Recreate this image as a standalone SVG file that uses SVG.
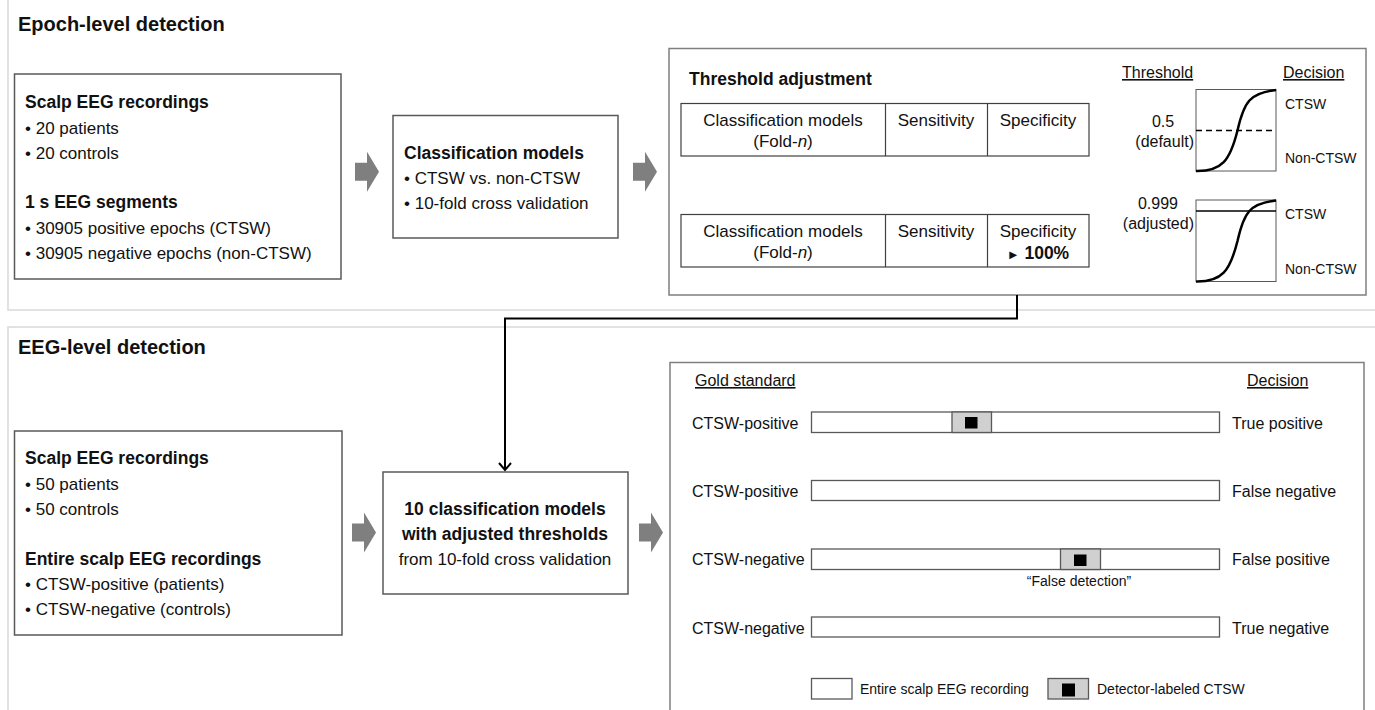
<svg xmlns="http://www.w3.org/2000/svg" width="1375" height="710" viewBox="0 0 1375 710">
<defs>
<style>
text{font-family:"Liberation Sans",Arial,sans-serif;fill:#111;}
.t17{font-size:17px;}
.b17{font-size:17.5px;font-weight:bold;}
.title{font-size:20px;font-weight:bold;}
.t16{font-size:16px;}
.t14{font-size:14px;}
.mid{text-anchor:middle;}
.end{text-anchor:end;}
.ul{text-decoration:underline;}
.section{fill:#fff;stroke:#d9d9d9;stroke-width:1.5;}
.box{fill:#fff;stroke:#595959;stroke-width:1.5;}
.panel{fill:#fff;stroke:#7f7f7f;stroke-width:1.5;}
.cell{fill:#fff;stroke:#404040;stroke-width:1.2;}
.bar{fill:#fff;stroke:#595959;stroke-width:1.3;}
.det{fill:#d0d0d0;stroke:#595959;stroke-width:1.3;}
.blk{fill:#000;}
.plot{fill:#fff;stroke:#595959;stroke-width:1;}
.curve{fill:none;stroke:#000;stroke-width:2.5;}
.bigarrow{fill:#7f7f7f;}
.conn{fill:none;stroke:#000;stroke-width:2;}
</style>
<marker id="openArrow" markerWidth="14" markerHeight="14" refX="12" refY="7" orient="auto" markerUnits="userSpaceOnUse" viewBox="0 0 14 14">
<path d="M5,1 L12,7 L5,13" fill="none" stroke="#000" stroke-width="2"/>
</marker>
<path id="blockArrow" d="M0,11 H12 V0 L24,20 L12,40 V29 H0 Z"/>
<path id="sig" d="M0,81.5 C26,82 34,71 41.5,41 C48,12 54,3.5 80,0.5"/>
</defs>

<!-- sections -->
<g id="section-epoch">
<rect class="section" x="8" y="-2" width="1372" height="312"/>
<text class="title" x="18" y="31">Epoch-level detection</text>
</g>
<g id="section-eeg">
<rect class="section" x="8" y="327" width="1372" height="390"/>
<text class="title" x="18" y="354">EEG-level detection</text>
</g>

<!-- Epoch-level nodes -->
<g id="node-scalp-eeg-1">
<rect class="box" x="14.5" y="74" width="326.5" height="205"/>
<text class="b17" x="25" y="108">Scalp EEG recordings</text>
<text class="t17" x="25" y="134">• 20 patients</text>
<text class="t17" x="25" y="159">• 20 controls</text>
<text class="b17" x="25" y="208">1 s EEG segments</text>
<text class="t17" x="25" y="234">• 30905 positive epochs (CTSW)</text>
<text class="t17" x="25" y="259">• 30905 negative epochs (non-CTSW)</text>
</g>

<g id="node-classification">
<rect class="box" x="393" y="115.5" width="225" height="122.5"/>
<text class="b17" x="404" y="159">Classification models</text>
<text class="t17" x="404" y="184">• CTSW vs. non-CTSW</text>
<text class="t17" x="404" y="209">• 10-fold cross validation</text>
</g>

<g id="node-threshold">
<rect class="panel" x="669" y="48.5" width="697" height="246.5"/>
<text class="b17" x="689" y="85">Threshold adjustment</text>
<text class="t16 ul" x="1122" y="78">Threshold</text>
<text class="t16 ul" x="1283" y="78">Decision</text>
<!-- table 1 -->
<rect class="cell" x="681" y="103.5" width="408" height="52.5"/>
<line class="cell" x1="885.5" y1="103.5" x2="885.5" y2="156"/>
<line class="cell" x1="987.5" y1="103.5" x2="987.5" y2="156"/>
<text class="t17 mid" x="783" y="126">Classification models</text>
<text class="t17 mid" x="783" y="147">(Fold-<tspan font-style="italic">n</tspan>)</text>
<text class="t17 mid" x="936" y="126">Sensitivity</text>
<text class="t17 mid" x="1038" y="126">Specificity</text>
<!-- table 2 -->
<rect class="cell" x="681" y="214.5" width="408" height="52.5"/>
<line class="cell" x1="885.5" y1="214.5" x2="885.5" y2="267"/>
<line class="cell" x1="987.5" y1="214.5" x2="987.5" y2="267"/>
<text class="t17 mid" x="783" y="237">Classification models</text>
<text class="t17 mid" x="783" y="258">(Fold-<tspan font-style="italic">n</tspan>)</text>
<text class="t17 mid" x="936" y="237">Sensitivity</text>
<text class="t17 mid" x="1038" y="237">Specificity</text>
<text class="t17 mid" x="1038" y="259"><tspan font-size="13">►</tspan> <tspan font-weight="bold" font-size="17.5">100%</tspan></text>
<!-- plot 1 -->
<rect class="plot" x="1196" y="89.5" width="80" height="81.5"/>
<line x1="1196" y1="130.5" x2="1276" y2="130.5" stroke="#000" stroke-width="1.5" stroke-dasharray="6,4"/>
<use href="#sig" class="curve" x="1196" y="89.5"/>
<text class="t16 mid" x="1163" y="127">0.5</text>
<text class="t16 end" x="1194" y="147">(default)</text>
<text class="t14" x="1285" y="109">CTSW</text>
<text class="t14" x="1285" y="163">Non-CTSW</text>
<!-- plot 2 -->
<rect class="plot" x="1196" y="200" width="80" height="81.5"/>
<line x1="1196" y1="211" x2="1276" y2="211" stroke="#000" stroke-width="1.5"/>
<use href="#sig" class="curve" x="1196" y="200"/>
<text class="t16 mid" x="1158" y="209">0.999</text>
<text class="t16 end" x="1194" y="229">(adjusted)</text>
<text class="t14" x="1285" y="219">CTSW</text>
<text class="t14" x="1285" y="274">Non-CTSW</text>
</g>

<!-- EEG-level nodes -->
<g id="node-scalp-eeg-2">
<rect class="box" x="14.5" y="431" width="327.5" height="204"/>
<text class="b17" x="25" y="464">Scalp EEG recordings</text>
<text class="t17" x="25" y="490">• 50 patients</text>
<text class="t17" x="25" y="515">• 50 controls</text>
<text class="b17" x="25" y="565">Entire scalp EEG recordings</text>
<text class="t17" x="25" y="590">• CTSW-positive (patients)</text>
<text class="t17" x="25" y="615">• CTSW-negative (controls)</text>
</g>

<g id="node-adjusted-models">
<rect class="box" x="383" y="472" width="245" height="122"/>
<text class="b17 mid" x="505" y="515">10 classification models</text>
<text class="b17 mid" x="505" y="540">with adjusted thresholds</text>
<text class="t17 mid" x="505" y="565">from 10-fold cross validation</text>
</g>

<g id="node-decision">
<rect class="panel" x="670" y="362.5" width="694" height="360"/>
<text class="t16 ul" x="695" y="386">Gold standard</text>
<text class="t16 ul" x="1247" y="386">Decision</text>
<!-- row 1 -->
<text class="t16" x="692" y="429">CTSW-positive</text>
<rect class="bar" x="811.5" y="412" width="408" height="20.5"/>
<rect class="det" x="952" y="412" width="39.5" height="20.5"/>
<rect class="blk" x="965" y="417" width="12.5" height="11.5"/>
<text class="t16" x="1232" y="429">True positive</text>
<!-- row 2 -->
<text class="t16" x="692" y="497">CTSW-positive</text>
<rect class="bar" x="811.5" y="480.5" width="408" height="20"/>
<text class="t16" x="1232" y="497">False negative</text>
<!-- row 3 -->
<text class="t16" x="692" y="565">CTSW-negative</text>
<rect class="bar" x="811.5" y="549" width="408" height="20.5"/>
<rect class="det" x="1060.5" y="549" width="40" height="20.5"/>
<rect class="blk" x="1074" y="554.5" width="12.5" height="11.5"/>
<text class="t16" x="1232" y="565">False positive</text>
<text class="t14 mid" x="1079" y="586">“False detection”</text>
<!-- row 4 -->
<text class="t16" x="692" y="634">CTSW-negative</text>
<rect class="bar" x="811.5" y="617" width="408" height="20"/>
<text class="t16" x="1232" y="634">True negative</text>
<!-- legend -->
<rect class="bar" x="811.5" y="678.5" width="40.5" height="20.5"/>
<text class="t14" x="860" y="694">Entire scalp EEG recording</text>
<rect class="det" x="1048" y="678.5" width="40.5" height="20.5"/>
<rect class="blk" x="1062" y="683.5" width="13" height="13"/>
<text class="t14" x="1097" y="694">Detector-labeled CTSW</text>
</g>

<!-- connectors -->
<g id="connectors">
<use href="#blockArrow" class="bigarrow" x="355" y="151.7"/>
<use href="#blockArrow" class="bigarrow" x="633" y="151.7"/>
<use href="#blockArrow" class="bigarrow" x="352" y="512.5"/>
<use href="#blockArrow" class="bigarrow" x="639" y="512.5"/>
<path class="conn" d="M1017,295 V318.5 H505 V470" marker-end="url(#openArrow)"/>
</g>
</svg>
